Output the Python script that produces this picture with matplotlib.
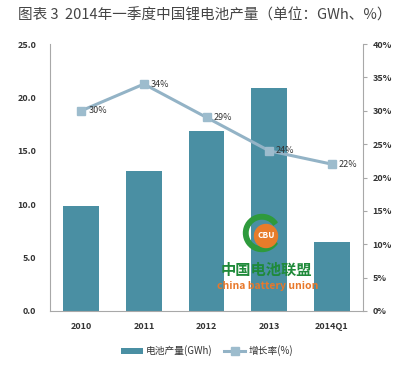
import matplotlib
matplotlib.use("Agg")
import matplotlib.pyplot as plt
from matplotlib.patches import Circle, Wedge
import numpy as np

plt.rcParams['font.family'] = ['Noto Sans CJK SC', 'DejaVu Sans']

categories = ["2010", "2011", "2012", "2013", "2014Q1"]
production = [9.8, 13.1, 16.9, 20.9, 6.5]
growth = [30, 34, 29, 24, 22]
growth_labels = ["30%", "34%", "29%", "24%", "22%"]
left_ticks = [0, 5, 10, 15, 20, 25]
right_ticks = [0, 5, 10, 15, 20, 25, 30, 35, 40]

bar_color = "#4a8fa3"
line_color = "#93b3c6"
marker_color = "#9dbccd"
axis_color = "#a8a8a8"
text_color = "#333333"

W, H = 411, 373
fig = plt.figure(figsize=(W/100, H/100), dpi=100)
ax = fig.add_axes([50/W, 1-311/H, 313/W, 267/H])
ax2 = ax.twinx()

x = np.arange(len(categories))
bars = ax.bar(x, production, width=0.575, color=bar_color, zorder=2, label="电池产量(GWh)")
ax.set_xlim(-0.5, len(categories)-0.5)
ax.set_ylim(0, 25)
ax.set_yticks(left_ticks)
ax.set_yticklabels([f"{v:.1f}" for v in left_ticks])
ax.set_xticks(x)
ax.set_xticklabels(categories)

ln, = ax2.plot(x, growth, color=line_color, lw=2.2, marker='s', ms=6,
               mfc=marker_color, mec=marker_color, zorder=3, label="增长率(%)")
ax2.set_ylim(0, 40)
ax2.set_yticks(right_ticks)
ax2.set_yticklabels([f"{v}%" for v in right_ticks])
for xi, g, lab in zip(x, growth, growth_labels):
    ax2.annotate(lab, (xi, g), xytext=(5, 0), textcoords='offset points',
                 va='center', ha='left', fontsize=6.5, color=text_color)

for a in (ax, ax2):
    a.spines['top'].set_visible(False)
    for s in ('left', 'right', 'bottom'):
        a.spines[s].set_color(axis_color)
        a.spines[s].set_linewidth(0.8)
ax.spines['right'].set_visible(False)
ax2.spines['left'].set_visible(False)
ax2.spines['bottom'].set_visible(False)

ax.tick_params(axis='y', length=0, labelsize=6.5, labelcolor=text_color, pad=10)
ax.tick_params(axis='x', length=0, labelsize=6.5, labelcolor=text_color, pad=8)
ax2.tick_params(axis='y', length=3, color=axis_color, labelsize=6.5, labelcolor=text_color, pad=4)
for t in ax.get_yticklabels() + ax.get_xticklabels() + ax2.get_yticklabels():
    t.set_fontweight('semibold')

ax2.set_zorder(ax.get_zorder()+1)
ax2.patch.set_visible(False)

# watermark logo in a pixel-coordinate overlay
ov = fig.add_axes([0, 0, 1, 1], zorder=10)
ov.set_xlim(0, W)
ov.set_ylim(H, 0)
ov.axis('off')
ov.patch.set_visible(False)
ov.add_patch(Wedge((262, 233), 18.5, 35, 325, width=4.5, color="#2e9a3c"))
ov.add_patch(Circle((266, 236), 11.5, color="#e87c2a"))
ov.text(266, 236, "CBU", ha='center', va='center', fontsize=6, color='white', fontweight='bold')
ov.text(266, 270, "中国电池联盟", ha='center', va='center', fontsize=11,
        color="#1f8a3a", fontweight='bold')
ov.text(268, 286, "china battery union", ha='center', va='center', fontsize=7.5,
        color="#e8782a", fontweight='semibold')

fig.text(18/W, 1-15/H, "图表 3  2014年一季度中国锂电池产量（单位：GWh、%）",
         ha='left', va='center', fontsize=10.5, color="#444444")

fig.legend(handles=[bars, ln], labels=["电池产量(GWh)", "增长率(%)"],
           loc='center', bbox_to_anchor=(207/W, 1-351/H), ncol=2, frameon=False,
           fontsize=7, handlelength=2.2, columnspacing=1.2, handletextpad=0.3,
           labelcolor=text_color)

fig.savefig("out.png", dpi=100)
